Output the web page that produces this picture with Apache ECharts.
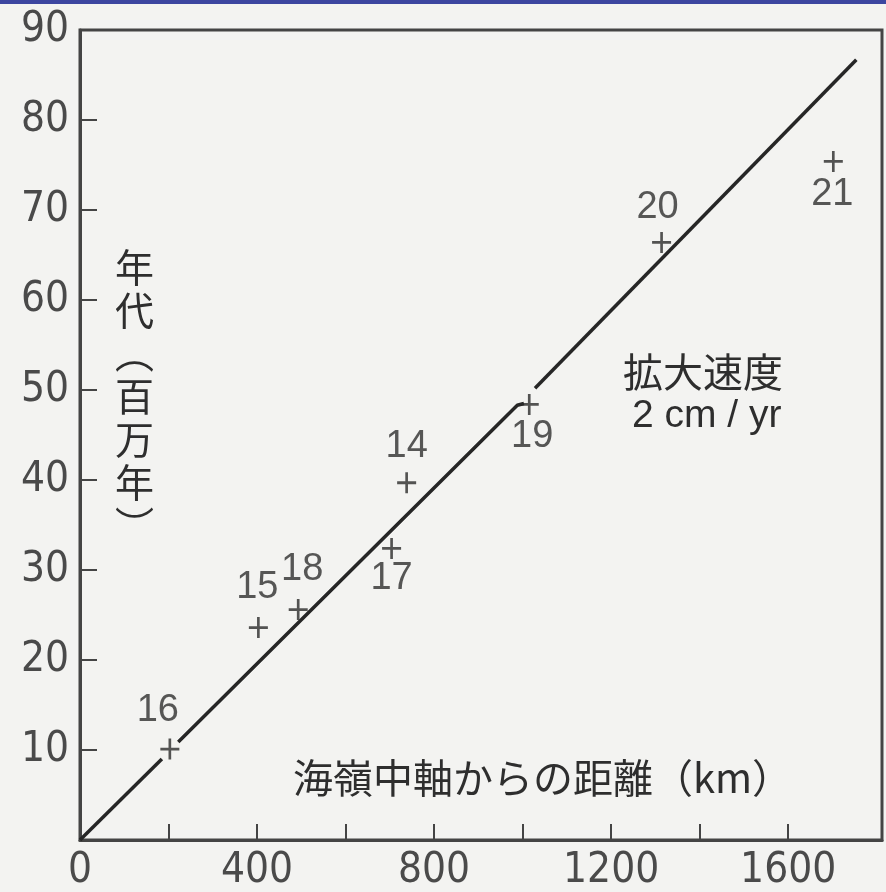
<!DOCTYPE html>
<html>
<head>
<meta charset="utf-8">
<script src="https://cdn.jsdelivr.net/npm/echarts@6/dist/echarts.min.js"></script>
<style>
html,body{margin:0;padding:0;background:#f3f3f1;overflow:hidden;}
#c{width:886px;height:892px;}
</style>
</head>
<body>
<div id="c"></div>
<script>
// ---- data ----
const pointIds = ['16', '15', '18', '17', '14', '19', '20', '21'];
const distancesKm = [203, 403, 493, 704, 738, 1015, 1314, 1702];
const agesMyr = [10.1, 23.6, 25.6, 32.4, 39.7, 48.4, 66.4, 75.4];
// fitted spreading line (2 cm/yr), drawn in pieces as in the original
const fitSeg1 = [[0, 0], [185, 9.0]];
const fitSeg2 = [[222, 10.9], [988, 48.3], [1003, 48.5]];
const fitSeg3 = [[1028, 50.2], [1754, 86.7]];
const xTickValues = [200, 400, 600, 800, 1000, 1200, 1400, 1600];
const xTickLabels = [0, 400, 800, 1200, 1600];
const yTickValues = [10, 20, 30, 40, 50, 60, 70, 80];
const yTickLabels = [10, 20, 30, 40, 50, 60, 70, 80, 90];
const xTitle = '海嶺中軸からの距離（km）';
const yTitle = ['年', '代', '︵', '百', '万', '年', '︶'];
const rateTitle = '拡大速度';
const rateValue = '2 cm / yr';

// ---- styling (label offsets per point, not data) ----
const labelOffsets = [[-12, -39], [-1, -40], [4, -40], [0, 30], [0, -36], [3, 32], [-4, -35], [-1, 33]];

const ink = '#2a2a2a';
const textInk = '#2e2e2e';
const axisFont = '"Liberation Sans Narrow", "DejaVu Sans Condensed", "Liberation Sans", sans-serif';
const numFont = '"Liberation Sans", Arial, sans-serif';
const cjkFont = '"Noto Sans CJK JP", "Noto Sans CJK SC", sans-serif';

const plus = 'path://M-1.4,-10L1.4,-10L1.4,-1.4L10,-1.4L10,1.4L1.4,1.4L1.4,10L-1.4,10L-1.4,1.4L-10,1.4L-10,-1.4L-1.4,-1.4Z';

const scatterData = distancesKm.map((x, i) => ({
  value: [x, agesMyr[i]],
  label: { offset: labelOffsets[i] }
}));

const chart = echarts.init(document.getElementById('c'), null, { renderer: 'canvas' });
const lineStyle = { color: '#262626', width: 3.5 };
const lineSeries = [fitSeg1, fitSeg2, fitSeg3].map(seg => ({
  type: 'line', data: seg, symbol: 'none', lineStyle: lineStyle, silent: true, animation: false, z: 2
}));

chart.setOption({
  backgroundColor: '#f3f3f1',
  animation: false,
  grid: { left: 80, top: 30, right: 4, bottom: 46, show: true, borderColor: '#444', borderWidth: 3, backgroundColor: 'transparent' },
  xAxis: {
    type: 'value', min: 0, max: 1812, interval: 200,
    splitLine: { show: false },
    axisLine: { show: true, lineStyle: { color: '#444', width: 3 } },
    axisTick: { show: true, inside: true, length: 16, customValues: xTickValues, lineStyle: { color: '#444', width: 2 } },
    axisLabel: {
      margin: 10, fontSize: 42, fontFamily: axisFont, color: '#4a4a4a',
      customValues: xTickLabels,
      formatter: v => String(v)
    }
  },
  yAxis: {
    type: 'value', min: 0, max: 90, interval: 10,
    splitLine: { show: false },
    axisLine: { show: true, lineStyle: { color: '#444', width: 3 } },
    axisTick: { show: true, inside: true, length: 17, customValues: yTickValues, lineStyle: { color: '#444', width: 2 } },
    axisLabel: {
      margin: 11, fontSize: 42, fontFamily: axisFont, color: '#4a4a4a',
      customValues: yTickLabels,
      formatter: v => String(v)
    }
  },
  series: lineSeries.concat([{
    type: 'scatter',
    data: scatterData,
    symbol: plus,
    symbolSize: [19, 21],
    itemStyle: { color: ink },
    z: 3,
    label: {
      show: true, position: 'inside', fontSize: 38, fontFamily: numFont, color: textInk,
      formatter: p => pointIds[p.dataIndex]
    }
  }]),
  graphic: [
    { type: 'rect', left: 0, top: 0, shape: { width: 886, height: 4 }, style: { fill: '#3c46a0' }, z: 10 },
    { type: 'text', left: 293, top: 758, style: { text: xTitle, font: '40px ' + cjkFont, fill: textInk } },
    { type: 'text', left: 115, top: 246, style: { text: yTitle.join('\n'), font: '39px ' + cjkFont, fill: textInk, lineHeight: 43, align: 'left' } },
    { type: 'text', left: 623, top: 352, style: { text: rateTitle, font: '40px ' + cjkFont, fill: textInk } },
    { type: 'text', left: 632, top: 397, style: { text: rateValue, font: '39px ' + numFont, fill: textInk } }
  ]
});
</script>
</body>
</html>
